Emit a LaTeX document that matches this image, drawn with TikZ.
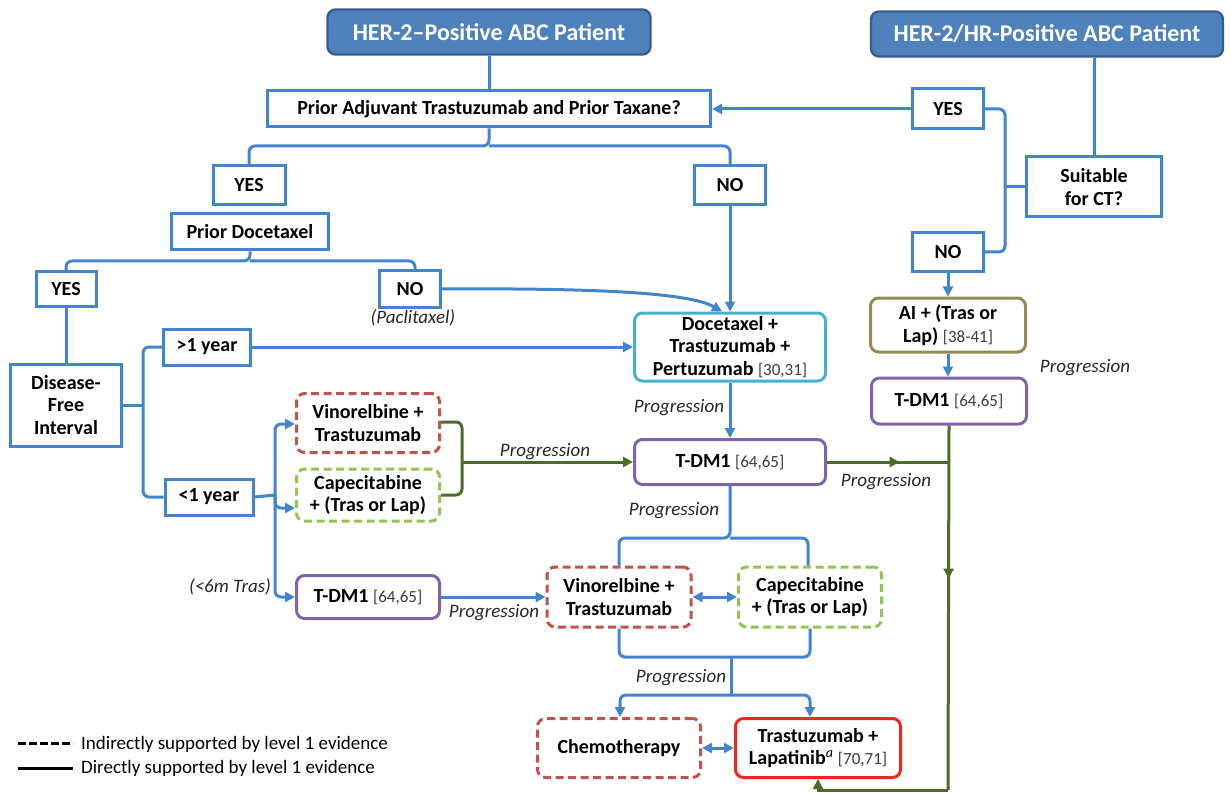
\documentclass[tikz,border=0pt]{standalone}
\usepackage{fontspec}
\setmainfont{Carlito}
\usetikzlibrary{arrows.meta,decorations.markings}
\definecolor{lineblue}{RGB}{66,132,206}
\definecolor{hdrfill}{RGB}{79,129,189}
\definecolor{hdrdraw}{RGB}{56,93,138}
\definecolor{gline}{RGB}{78,108,40}
\definecolor{reddash}{RGB}{196,82,76}
\definecolor{greendash}{RGB}{150,196,80}
\definecolor{purp}{RGB}{128,100,170}
\definecolor{cyanb}{RGB}{70,176,210}
\definecolor{oliveb}{RGB}{148,140,84}
\definecolor{redsolid}{RGB}{236,40,30}
\definecolor{reftext}{RGB}{60,60,60}
\newcommand{\rf}[1]{{\mdseries\fontsize{17}{20}\selectfont\color{reftext}#1}}
\tikzset{
  base/.style={line width=3pt, fill=white, align=center, inner sep=0pt,
    font=\bfseries\fontsize{20}{22.5}\selectfont, text=black},
  box/.style={base, draw=lineblue},
  rbox/.style={base, rounded corners=8pt},
  dbox/.style={base, rounded corners=8pt, dash pattern=on 8pt off 4.5pt},
  hdr/.style={line width=2.4pt, draw=hdrdraw, fill=hdrfill, rounded corners=8pt,
    text=white, font=\bfseries\fontsize{24}{28}\selectfont},
  lbl/.style={font=\itshape\fontsize{19}{22}\selectfont, text=black!85, inner sep=0pt},
  conn/.style={draw=lineblue, line width=3pt, rounded corners=6pt},
  arr/.style={conn, -{Triangle[length=10pt,width=10pt]}},
  darr/.style={conn, {Triangle[length=10pt,width=10pt]}-{Triangle[length=10pt,width=10pt]}},
  gconn/.style={draw=gline, line width=3pt, rounded corners=6pt},
  gmid/.style={gconn, postaction={decorate}, decoration={markings,
    mark=at position #1 with {\arrow{Triangle[length=10pt,width=10pt]}}}},
}
\begin{document}
\begin{tikzpicture}[x=1pt,y=-1pt]
\useasboundingbox (0,0) rectangle (1231,794);

% headers
\node[hdr, minimum width=323, minimum height=45] (h1) at (489,32) {HER-2--Positive ABC Patient};
\node[hdr, minimum width=352, minimum height=45] (h2) at (1047,34) {HER-2/HR-Positive ABC Patient};

% boxes
\node[box, minimum width=443, minimum height=36] (pa) at (489,109) {Prior Adjuvant Trastuzumab and Prior Taxane?};
\node[box, minimum width=71, minimum height=40] (yesr) at (948,109) {YES};
\node[box, minimum width=135, minimum height=60] (suit) at (1094,187) {Suitable\\for CT?};
\node[box, minimum width=71, minimum height=39] (nor) at (948,252) {NO};
\node[rbox, draw=oliveb, minimum width=155, minimum height=54] (ai) at (948,325) {AI + (Tras or\\Lap) \rf{[38-41]}};
\node[rbox, draw=purp, minimum width=155, minimum height=46] (t3) at (949,401) {T-DM1 \rf{[64,65]}};

\node[box, minimum width=72, minimum height=39] (yesm) at (249,185) {YES};
\node[box, minimum width=71, minimum height=39] (nom) at (730,185) {NO};
\node[box, minimum width=157, minimum height=36] (pd) at (250,232) {Prior Docetaxel};
\node[box, minimum width=60, minimum height=35] (yesl) at (66,289) {YES};
\node[box, minimum width=61, minimum height=36] (nol) at (410,289) {NO};
\node[lbl] (pac) at (413,318) {(Paclitaxel)};
\node[box, minimum width=111, minimum height=82] (dfi) at (66,405) {Disease-\\Free\\Interval};
\node[box, minimum width=87, minimum height=36] (gt) at (207,347) {>1 year};
\node[box, minimum width=88, minimum height=36] (lt) at (209,497) {<1 year};

\node[dbox, draw=reddash, minimum width=143, minimum height=59] (v1) at (368,423) {Vinorelbine +\\Trastuzumab};
\node[dbox, draw=greendash, minimum width=143, minimum height=52] (c1) at (368,495) {Capecitabine\\+ (Tras or Lap)};
\node[rbox, draw=purp, minimum width=143, minimum height=43] (t1) at (368,597) {T-DM1 \rf{[64,65]}};
\node[lbl] (six) at (230,587) {(<6m Tras)};

\node[rbox, draw=cyanb, minimum width=191, minimum height=68] (dtp) at (730,347) {Docetaxel +\\Trastuzumab +\\Pertuzumab \rf{[30,31]}};
\node[rbox, draw=purp, minimum width=191, minimum height=45] (t2) at (730,462) {T-DM1 \rf{[64,65]}};

\node[dbox, draw=reddash, minimum width=144, minimum height=60] (v2) at (619,597) {Vinorelbine +\\Trastuzumab};
\node[dbox, draw=greendash, minimum width=143, minimum height=60] (c2) at (810,597) {Capecitabine\\+ (Tras or Lap)};
\node[dbox, draw=reddash, minimum width=163, minimum height=59] (ch) at (619,748) {Chemotherapy};
\node[rbox, draw=redsolid, minimum width=165, minimum height=59] (tl) at (818,748) {Trastuzumab +\\Lapatinib\textsuperscript{\mdseries\itshape a} \rf{[70,71]}};

% labels
\node[lbl] at (1085,368) {Progression};
\node[lbl] at (545,452) {Progression};
\node[lbl] at (679,408) {Progression};
\node[lbl] at (886,482) {Progression};
\node[lbl] at (674,511) {Progression};
\node[lbl] at (494,613) {Progression};
\node[lbl] at (681,678) {Progression};

% connectors top
\draw[conn] (h1.south) -- (h1.south |- pa.north);
\draw[conn] (suit.north |- h2.south) -- (suit.north);
\draw[arr] (yesr.west) -- (pa.east);
\coordinate (rj) at (1005,187);
\draw[conn] (yesr.east) -| (rj) |- (nor.east);
\draw[conn] (suit.west) -- (rj);
\draw[arr] (nor.south) -- (ai.north);
\draw[arr] (ai.south) -- (ai.south |- t3.north);

\coordinate (pj) at (489,146);
\draw[conn] (pa.south) -- (pj) -| (yesm.north);
\draw[conn] (pj) -| (nom.north);
\draw[arr] (nom.south) -- (nom.south |- dtp.north);

\coordinate (dj) at (250,261);
\draw[conn] (pd.south) -- (dj) -| (yesl.north);
\draw[conn] (dj) -| ([xshift=5pt]nol.north);
\draw[arr] (nol.east) .. controls (600,288) and (690,293) .. ([xshift=-8pt]dtp.north);

\draw[conn] (yesl.south) -- (dfi.north);
\coordinate (fj) at (143,405);
\draw[conn] (gt.west) -| (fj) |- (lt.west);
\draw[conn] (dfi.east) -- (fj);
\draw[arr] (gt.east) -- (gt.east -| dtp.west);

\coordinate (lj) at (275,495);
\draw[conn] (lt.east) -- (lj);
\draw[arr] (lj) |- ([yshift=-1pt]v1.west);
\draw[arr] (lj) |- ([yshift=-13pt]c1.west);
\draw[arr] (lj) |- (t1.west);

% green bracket
\coordinate (gj) at (462,462);
\draw[gconn] ([yshift=1pt]v1.east) -| (gj) |- (c1.east);
\draw[gconn, -{Triangle[length=10pt,width=10pt]}] (gj) -- (t2.west);

\draw[arr] (dtp.south) -- (t2.north);

\coordinate (tj) at (730,538);
\draw[conn] (t2.south) -- (tj) -| (v2.north);
\draw[conn] (tj) -| ([xshift=-2pt]c2.north);
\draw[darr] (v2.east) -- (c2.west);
\draw[arr] (t1.east) -- (v2.west);

\coordinate (mj1) at (731,657);
\coordinate (mj2) at (731,695);
\draw[conn] (v2.south) |- (mj1);
\draw[conn] (c2.south) |- (mj1);
\draw[conn] (mj1) -- (mj2);
\draw[arr] (mj2) -| ([xshift=1pt]ch.north);
\draw[arr] (mj2) -| ([xshift=-8pt]tl.north);
\draw[darr] (ch.east) -- (tl.west);

% green right path
\coordinate (gr) at (948,462);
\coordinate (gb) at (948,790);
\draw[gmid=0.6] (t2.east) -- (gr);
\draw[gmid=0.42] (t3.south) -- (gb);
\draw[gconn, -{Triangle[length=10pt,width=10pt]}, rounded corners=0pt] (gb) -| (tl.south);

% legend
\coordinate (l1a) at (18,743); \coordinate (l1b) at (73,743);
\coordinate (l2a) at (18,768); \coordinate (l2b) at (73,768);
\draw[line width=3pt, dash pattern=on 8pt off 3pt] (l1a) -- (l1b);
\draw[line width=3pt] (l2a) -- (l2b);
\node[anchor=west, inner sep=0pt, font=\fontsize{19}{22}\selectfont] at (81,744) {Indirectly supported by level 1 evidence};
\node[anchor=west, inner sep=0pt, font=\fontsize{19}{22}\selectfont] at (81,768) {Directly supported by level 1 evidence};
\end{tikzpicture}
\end{document}
